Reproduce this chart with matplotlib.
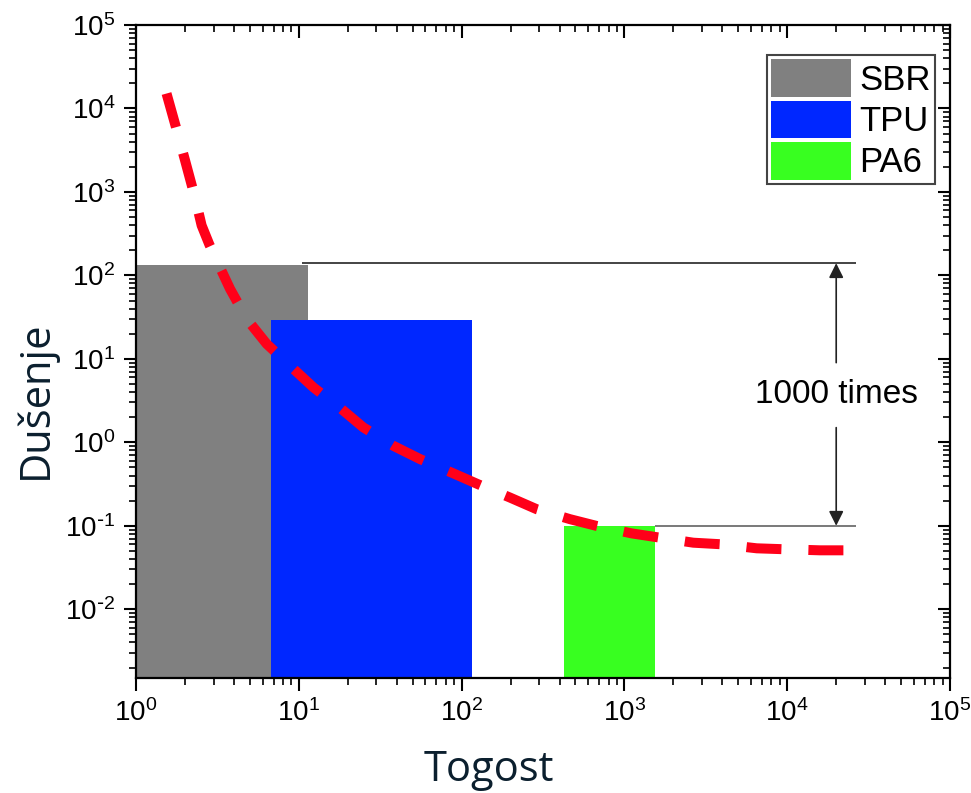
import matplotlib
matplotlib.use('Agg')
import matplotlib.pyplot as plt
import numpy as np
from matplotlib.ticker import LogLocator, FuncFormatter, NullFormatter

plt.rcParams['font.family'] = ['Liberation Sans', 'DejaVu Sans']
plt.rcParams['axes.unicode_minus'] = False

# material windows: stiffness range and max damping
materials = ['SBR', 'TPU', 'PA6']
stiff_lo = [1.0, 6.75, 425]
stiff_hi = [11.4, 116, 1550]
damp_max = [132, 29, 0.1]
colors = ['#808080', '#0027ff', '#38ff20']

# trend curve
curve_x = [1.54, 1.78, 2.0, 2.3, 2.53, 2.82, 3.13, 3.78, 4.79, 6.35, 9.06, 12.3, 18.3,
           24.9, 38, 55.5, 86.7, 126, 198, 289, 463, 676, 1110, 1655, 2650, 3960,
           6500, 9700, 15900, 26500]
curve_y = [15100, 5500, 2400, 870, 397, 235, 151, 69, 30, 15.1, 7.9, 4.55, 2.5,
           1.51, 0.91, 0.63, 0.434, 0.315, 0.218, 0.158, 0.12, 0.0995, 0.081, 0.072,
           0.0627, 0.06, 0.0537, 0.0523, 0.0508, 0.0508]

upper_ref = 140
lower_ref = 0.1
arrow_x = 2.0e4

fig = plt.figure(figsize=(9.71, 7.93), dpi=100)
ax = fig.add_axes([136/971, 1-678/793, (950-136)/971, (678-25)/793])
ax.set_xscale('log')
ax.set_yscale('log')
ax.set_xlim(1, 1e5)
ax.set_ylim(1.5e-3, 1e5)

bottom = 1e-4
for name, lo, hi, top, c in zip(materials, stiff_lo, stiff_hi, damp_max, colors):
    ax.bar(lo, top - bottom, width=hi - lo, bottom=bottom, align='edge',
           color=c, label=name, zorder=1)

ax.plot(curve_x, curve_y, color='#ff0019', lw=7.2, dashes=(3.5, 2.7),
        solid_capstyle='butt', zorder=3)

ax.hlines(upper_ref, 10.5, 26500, color='#111111', lw=1.1, zorder=2)
ax.hlines(lower_ref, stiff_hi[2], 26500, color='#555555', lw=1.1, zorder=2)

arrow_kw = dict(arrowstyle='-|>', mutation_scale=22, lw=1.2, color='#222222',
                shrinkA=0, shrinkB=0)
ax.annotate('', xy=(arrow_x, upper_ref), xytext=(arrow_x, 9.0), arrowprops=arrow_kw)
ax.annotate('', xy=(arrow_x, lower_ref), xytext=(arrow_x, 1.5), arrowprops=arrow_kw)
ax.text(arrow_x, 3.7, '1000 times', fontsize=24, ha='center', va='center')

for s in ax.spines.values():
    s.set_linewidth(1.6)


def pow_label(v, pos):
    e = int(round(np.log10(v)))
    exp = r'\text{-}%d' % -e if e < 0 else '%d' % e
    return r'$\mathdefault{10^{%s}}$' % exp


ax.xaxis.set_major_locator(LogLocator(base=10, numticks=10))
ax.yaxis.set_major_locator(LogLocator(base=10, numticks=10))
ax.xaxis.set_minor_locator(LogLocator(base=10, subs=range(2, 10), numticks=20))
ax.yaxis.set_minor_locator(LogLocator(base=10, subs=range(2, 10), numticks=20))
ax.xaxis.set_major_formatter(FuncFormatter(pow_label))
ax.yaxis.set_major_formatter(FuncFormatter(pow_label))
ax.xaxis.set_minor_formatter(NullFormatter())
ax.yaxis.set_minor_formatter(NullFormatter())
ax.tick_params(which='major', length=9, width=1.5, labelsize=20, pad=6)
ax.tick_params(which='minor', length=5, width=1.2)
ax.tick_params(axis='x', which='both', top=True, direction='out')
ax.tick_params(axis='y', which='both', right=True, direction='out')
# top and right ticks point inward
for t in ax.xaxis.get_major_ticks() + ax.xaxis.get_minor_ticks():
    t.tick2line.set_marker(3)
for t in ax.yaxis.get_major_ticks() + ax.yaxis.get_minor_ticks():
    t.tick2line.set_marker(0)

leg = ax.legend(loc='upper right', bbox_to_anchor=(0.9816, 0.954), borderaxespad=0,
                fontsize=25, handlelength=2.3, handleheight=1.3, labelspacing=0.1,
                borderpad=0.12, handletextpad=0.25, fancybox=False, framealpha=1)
leg.get_frame().set_edgecolor('#444444')
leg.get_frame().set_linewidth(1.5)

fig.text(489/971, 1-781/793, 'Togost', fontsize=30, ha='center', va='baseline',
         color='#0b1f2e', family=['Open Sans', 'DejaVu Sans'])
fig.text(36/971, 1-400/793, 'Dušenje', fontsize=30, ha='center', va='center',
         rotation=90, color='#0b1f2e', family=['Open Sans', 'DejaVu Sans'])

fig.savefig('out.png', dpi=100)
